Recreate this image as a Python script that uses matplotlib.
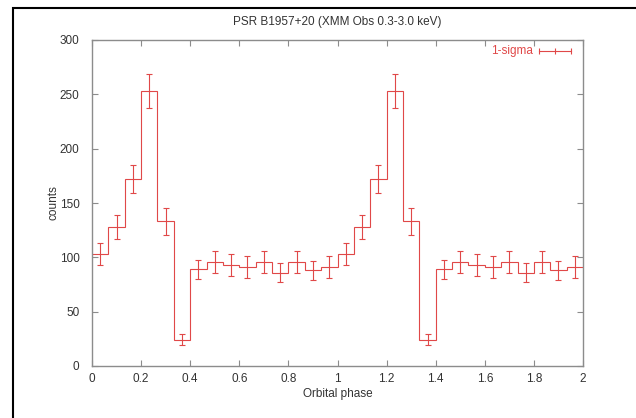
import numpy as np
import matplotlib.pyplot as plt
from matplotlib.patches import Rectangle

# counts per phase bin (15 bins per orbit), shown twice
counts = [103, 128, 172, 253, 133, 24, 89, 96, 93, 91, 96, 86, 96, 88, 91]
errors = [10, 11, 13, 16, 12, 5, 9, 10, 10, 10, 10, 9, 10, 9, 10]
n_orbits = 2

plt.rcParams['font.family'] = ['Liberation Sans', 'DejaVu Sans']
plt.rcParams['font.size'] = 8.5

vals = np.array(counts * n_orbits, dtype=float)
errs = np.array(errors * n_orbits, dtype=float)
edges = np.linspace(0, n_orbits, len(vals) + 1)
centers = 0.5 * (edges[:-1] + edges[1:])

red = '#e04848'
grey = '#8c8c8c'

fig = plt.figure(figsize=(6.36, 4.18), dpi=100)
# screenshot frame
fig.patches.append(Rectangle((13 / 636, -0.1), 1.2, 1 - 8 / 418 + 0.1,
                             transform=fig.transFigure, fill=False,
                             edgecolor='black', linewidth=1.5))
ax = fig.add_axes([92 / 636, 1 - 366 / 418, 491 / 636, 326 / 418])

ax.stairs(vals, edges, baseline=None, color=red, linewidth=0.8)
ax.errorbar(centers, vals, yerr=errs, fmt='none', ecolor=red,
            elinewidth=0.8, capsize=2.5, capthick=0.8)

ax.set_xlim(0, 2)
ax.set_ylim(0, 300)
ax.set_xticks(np.arange(0, 2.01, 0.2))
ax.set_xticklabels(['0', '0.2', '0.4', '0.6', '0.8', '1', '1.2', '1.4',
                    '1.6', '1.8', '2'])
ax.set_yticks(np.arange(0, 301, 50))
ax.tick_params(direction='in', length=4, width=0.8, color=grey,
               top=True, right=True, labelcolor='#333333', pad=5)
ax.tick_params(axis='y', pad=9)
for s in ax.spines.values():
    s.set_color(grey)
    s.set_linewidth(1)

ax.set_xlabel('Orbital phase', color='#333333', labelpad=2)
ax.set_ylabel('counts', color='#333333')
ax.yaxis.set_label_coords(-0.066, 0.5)
ax.set_title('PSR B1957+20 (XMM Obs 0.3-3.0 keV)', color='#333333',
             fontsize=8.5, pad=11)

# key in gnuplot style
ky = 0.967
ax.text(0.898, ky, '1-sigma', color=red, transform=ax.transAxes,
        ha='right', va='center')
ax.plot([0.910, 0.976], [ky, ky], color=red, linewidth=0.8,
        transform=ax.transAxes)
ax.plot([0.910, 0.943, 0.976], [ky] * 3, linestyle='none', marker='|',
        markersize=5, markeredgewidth=0.8, color=red, transform=ax.transAxes)

fig.savefig('out.png', dpi=100)
